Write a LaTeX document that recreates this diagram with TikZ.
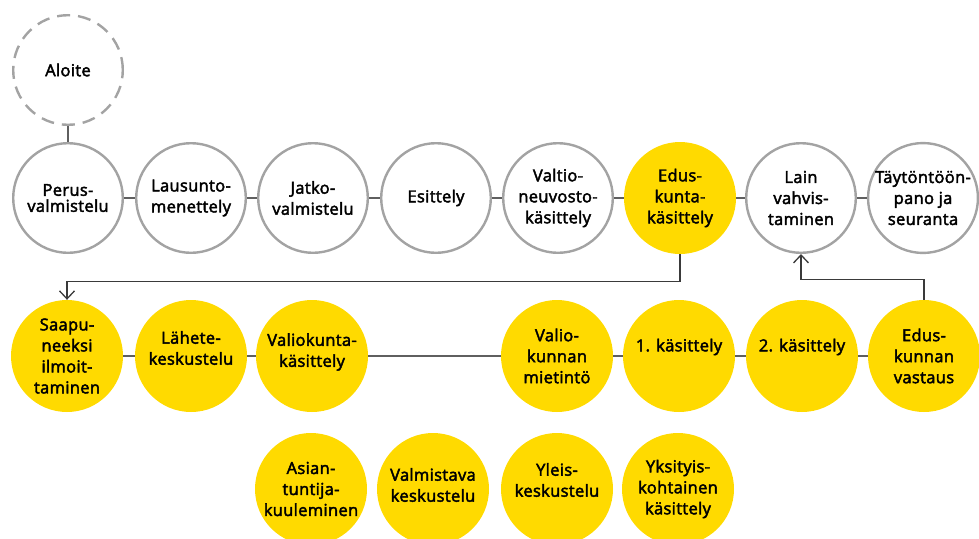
\documentclass[tikz,border=0pt]{standalone}
\usepackage{fontspec}
\setmainfont{Open Sans}[UprightFeatures={FakeBold=2.6},LetterSpace=2]
\usetikzlibrary{arrows.meta}
\definecolor{ringgray}{HTML}{A3A3A3}
\definecolor{linkgray}{HTML}{5F5F5F}
\definecolor{flowgray}{HTML}{3A3A3A}
\definecolor{eduyellow}{HTML}{FFDA00}

\begin{document}
\begin{tikzpicture}[x=1pt,y=1pt,
    txt/.style={align=center,text=black,font=\fontsize{16.5}{21}\selectfont},
    stage/.style={txt,circle,draw=ringgray,line width=2.4pt,minimum size=109.6pt,inner sep=0pt},
    edu/.style={txt,circle,fill=eduyellow,minimum size=112pt,inner sep=0pt},
    link/.style={draw=linkgray,line width=1.3pt},
    flow/.style={draw=flowgray,line width=1.3pt,-{Straight Barb[length=8pt,width=15pt,line width=1.3pt]}}]
\useasboundingbox (0,0) rectangle (979,-538);

% valmistelu ministeriossa
\node [stage,dash pattern=on 13pt off 8pt] (aloite) at (68,-70) {Aloite};
\node [stage,font=\fontsize{16.5}{16}\selectfont] (perus) at (68,-198) {Perus-\\valmistelu};
\node [stage] (lausunto) at (191,-198) {Lausunto-\\menettely};
\node [stage] (jatko) at (313,-198) {Jatko-\\valmistelu};
\node [stage] (esittely) at (436,-198) {Esittely};
\node [stage] (valtio) at (558,-198) {Valtio-\\neuvosto-\\käsittely};
\node [edu] (edus) at (680,-198) {Edus-\\kunta-\\käsittely};
\node [stage] (vahvistus) at (801,-198) {Lain\\vahvis-\\taminen};
\node [stage] (toimeenpano) at (923,-198) {Täytöntöön-\\pano ja\\seuranta};

% eduskuntakasittely
\node [edu] (saapu) at (67,-356) {Saapu-\\neeksi\\ilmoit-\\taminen};
\node [edu] (lahete) at (191,-356) {};
\node [txt] (lahetet) at ([yshift=8]lahete) {Lähete-\\keskustelu};
\node [edu] (valiok) at (312,-356) {};
\node [txt] (valiokt) at ([yshift=4]valiok) {Valiokunta-\\käsittely};
\node [edu] (mietinto) at (557,-356) {Valio-\\kunnan\\mietintö};
\node [edu] (kas1) at (679,-356) {};
\node [txt] (kas1t) at ([yshift=9]kas1) {1. käsittely};
\node [edu] (kas2) at (802,-356) {};
\node [txt] (kas2t) at ([yshift=9]kas2) {2. käsittely};
\node [edu] (vastaus) at (924,-356) {Edus-\\kunnan\\vastaus};

\node [edu] (kuuleminen) at (311,-489) {Asian-\\tuntija-\\kuuleminen};
\node [edu] (valmistava) at (433,-489) {};
\node [txt] (valmistavat) at ([yshift=4]valmistava) {Valmistava\\keskustelu};
\node [edu] (yleis) at (557,-489) {};
\node [txt] (yleist) at ([yshift=9]yleis) {Yleis-\\keskustelu};
\node [edu] (yksityis) at (678,-489) {Yksityis-\\kohtainen\\käsittely};

\draw [link] (aloite) -- (perus);
\draw [link] (perus) -- (lausunto);
\draw [link] (lausunto) -- (jatko);
\draw [link] (jatko) -- (esittely);
\draw [link] (esittely) -- (valtio);
\draw [link] (valtio) -- (edus);
\draw [link] (edus) -- (vahvistus);
\draw [link] (vahvistus) -- (toimeenpano);

\draw [link] (saapu) -- (lahete);
\draw [link] (lahete) -- (valiok);
\draw [link] (valiok) -- (mietinto);
\draw [link] (mietinto) -- (kas1);
\draw [link] (kas1) -- (kas2);
\draw [link] (kas2) -- (vastaus);

\draw [flow] (edus.south) -- ++(0,-27) -| (saapu.north);
\draw [flow] (vastaus.north) -- ++(0,20) -| (vahvistus.south);
\end{tikzpicture}
\end{document}
